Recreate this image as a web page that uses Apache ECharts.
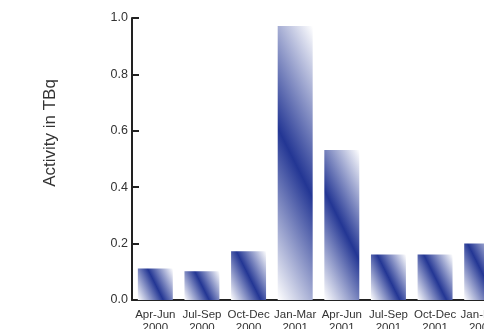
<!DOCTYPE html>
<html>
<head>
<meta charset="utf-8">
<script src="https://cdn.jsdelivr.net/npm/echarts@6/dist/echarts.min.js"></script>
<style>html,body{margin:0;padding:0;background:#fff;}#c{width:484px;height:329px;}</style>
</head>
<body>
<div id="c"></div>
<script>
const categories = ['Apr-Jun\n2000','Jul-Sep\n2000','Oct-Dec\n2000','Jan-Mar\n2001','Apr-Jun\n2001','Jul-Sep\n2001','Oct-Dec\n2001','Jan-Mar\n2002'];
const activity = [0.112, 0.102, 0.173, 0.972, 0.532, 0.161, 0.161, 0.200];
const yTicks = [0, 0.2, 0.4, 0.6, 0.8, 1.0];
const yName = 'Activity in TBq';

const chart = echarts.init(document.getElementById('c'), null, {renderer:'canvas'});
const font = 'Liberation Sans, Arial, sans-serif';

function grad(hPx, wPx) {
  const L = (2 * wPx + hPx) / 5;
  const x2 = (wPx - 2 * L) / wPx;
  const y2 = L / hPx;
  return new echarts.graphic.LinearGradient(1, 0, x2, y2, [
    {offset: 0, color: '#ffffff'},
    {offset: 0.5, color: '#233694'},
    {offset: 1, color: '#ffffff'}
  ]);
}

const option = {
  animation: false,
  grid: {left: 132, top: 18, bottom: 29, right: -21, containLabel: false, outerBoundsMode: 'none'},
  xAxis: {
    type: 'category',
    data: categories,
    boundaryGap: true,
    axisLine: {lineStyle: {color: '#222', width: 2}},
    axisTick: {inside: true, length: 7, lineStyle: {color: '#222', width: 2}},
    axisLabel: {color: '#333', fontSize: 11.5, fontFamily: font, margin: 8, lineHeight: 13, interval: 0, hideOverlap: false}
  },
  yAxis: {
    type: 'value',
    min: yTicks[0], max: yTicks[yTicks.length - 1], interval: 0.2,
    axisLine: {show: true, lineStyle: {color: '#222', width: 2}},
    axisTick: {show: true, inside: true, length: 7, lineStyle: {color: '#222', width: 2}},
    splitLine: {show: false},
    axisLabel: {color: '#333', fontSize: 12.5, fontFamily: font, margin: 4, formatter: v => v.toFixed(1)}
  },
  graphic: [{
    type: 'text', x: 50, y: 133, rotation: Math.PI / 2,
    style: {text: yName, fill: '#333', fontSize: 17, fontFamily: font, align: 'center', verticalAlign: 'middle'}
  }],
  series: [{
    type: 'bar',
    barCategoryGap: '25%',
    z: 3,
    data: activity.map(v => ({value: v}))
  }]
};
chart.setOption(option);

const y0 = chart.convertToPixel({yAxisIndex: 0}, 0);
const x0 = chart.convertToPixel({xAxisIndex: 0}, 0);
const x1 = chart.convertToPixel({xAxisIndex: 0}, 1);
const bw = (x1 - x0) * 0.75;
chart.setOption({
  series: [{
    data: activity.map(v => {
      const h = Math.max(1, y0 - chart.convertToPixel({yAxisIndex: 0}, v));
      return {value: v, itemStyle: {color: grad(h, bw)}};
    })
  }]
});
</script>
</body>
</html>
